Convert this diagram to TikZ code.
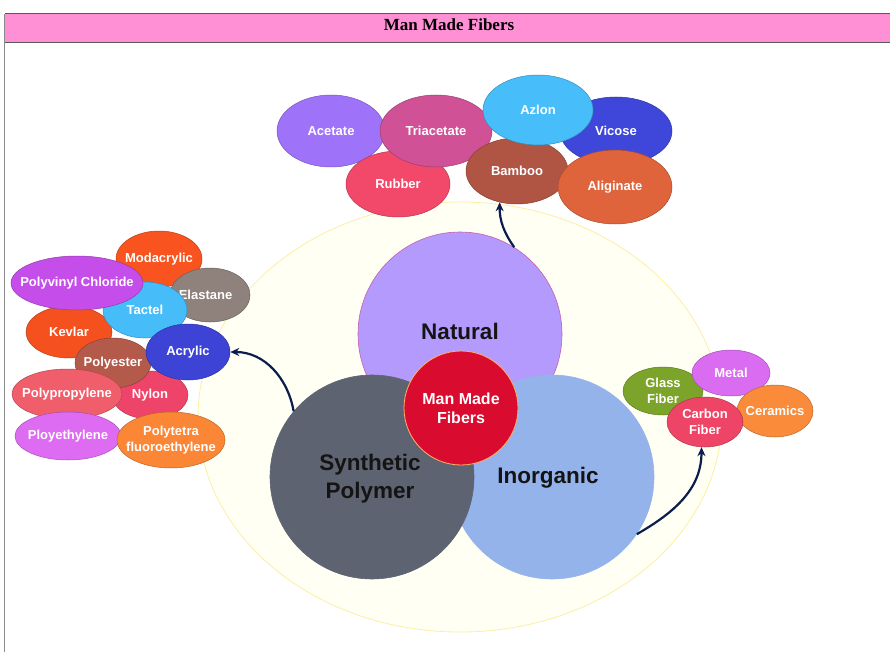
\documentclass[tikz,border=0pt]{standalone}
\usepackage{fontspec}
\setmainfont{Liberation Sans}
\newfontfamily\titlefont{Liberation Serif}
\usetikzlibrary{shapes.geometric,arrows.meta}

% palette
\definecolor{barpink}{HTML}{FF90D5}
\definecolor{arrowblue}{HTML}{0B1D4E}
\definecolor{haloFill}{HTML}{FFFFF4}
\definecolor{haloLine}{HTML}{FBEFA6}
\definecolor{cNatural}{HTML}{B49AFD}
\definecolor{cSynthetic}{HTML}{5D6370}
\definecolor{cInorganic}{HTML}{94B3EB}
\definecolor{cCore}{HTML}{D90B2F}
\definecolor{cAcetate}{HTML}{9F72FA}
\definecolor{cTriacetate}{HTML}{D05196}
\definecolor{cRubber}{HTML}{F2496A}
\definecolor{cAzlon}{HTML}{47BEFA}
\definecolor{cVicose}{HTML}{3F47DB}
\definecolor{cBamboo}{HTML}{B05544}
\definecolor{cAliginate}{HTML}{DF643C}
\definecolor{cModacrylic}{HTML}{F9541F}
\definecolor{cPVC}{HTML}{C54EEA}
\definecolor{cElastane}{HTML}{8F817B}
\definecolor{cTactel}{HTML}{46BDF8}
\definecolor{cKevlar}{HTML}{F4511E}
\definecolor{cPolyester}{HTML}{B35A4B}
\definecolor{cAcrylic}{HTML}{3D43D5}
\definecolor{cNylon}{HTML}{EF4469}
\definecolor{cPolypropylene}{HTML}{F05D6B}
\definecolor{cPloyethylene}{HTML}{DE6CF2}
\definecolor{cPolytetra}{HTML}{FA8636}
\definecolor{cGlass}{HTML}{7DA42A}
\definecolor{cMetal}{HTML}{D96CF1}
\definecolor{cCeramics}{HTML}{FA8B3A}
\definecolor{cCarbon}{HTML}{EE4566}

\begin{document}
\begin{tikzpicture}[x=1pt,y=-1pt,
  % negative inner sep lets the minimum sizes alone fix each oval
  oval/.style n args={3}{ellipse, fill=#1, draw=#1!75!black, line width=0.5pt,
    minimum width=#2, minimum height=#3, inner xsep=-80pt, inner ysep=-30pt,
    text=white, align=center, font=\bfseries\fontsize{13}{16}\selectfont},
  group/.style n args={2}{circle, fill=#1, draw=#2, line width=0.6pt,
    minimum size=204pt, inner sep=0pt},
  grouplabel/.style={text=black!92, align=center,
    font=\bfseries\fontsize{22.5}{28}\selectfont},
  link/.style={draw=arrowblue, line width=2.2pt, -{Stealth[length=9pt,width=8pt]}}]

\useasboundingbox (0,0) rectangle (890,652);
\fill[white] (0,0) rectangle (890,652);

% page frame and title bar
\fill[barpink] (5,14) rectangle (892,43);
\draw[black!65, line width=1pt] (5,14) -- (892,14) (5,43) -- (892,43);
\draw[black!45, line width=1.5pt] (4.5,14) -- (4.5,652);
\node[font=\titlefont\bfseries\fontsize{17}{20}\selectfont] (title) at (449,25) {Man Made Fibers};

% background halo
\node[ellipse, fill=haloFill, draw=haloLine, line width=0.8pt,
      minimum width=524pt, minimum height=430pt, inner sep=0pt] (halo) at (460,417) {};

% the three families and the core
\node[group={cNatural}{cCore!40!cNatural}] (natural) at (460,334) {};
\node[group={cInorganic}{cInorganic}] (inorganic) at (552,477) {};
\node[group={cSynthetic}{cSynthetic}] (synthetic) at (372,477) {};
\node[grouplabel] (natlabel) at (460,331) {Natural};
\node[grouplabel] (synlabel) at (370,479) {Synthetic\\Polymer};
\node[grouplabel] (inolabel) at (548,478) {Inorganic};
\node[circle, fill=cCore, draw=orange!60, line width=0.8pt, minimum size=114pt,
      inner sep=-20pt, text=white, align=center,
      font=\bfseries\fontsize{16}{19}\selectfont] (core) at (461,408) {Man Made\\Fibers};

% natural fibres
\node[oval={cAcetate}{108}{72}] (acetate) at (331,131) {Acetate};
\node[oval={cRubber}{104}{66}] (rubber) at (398,184) {Rubber};
\node[oval={cTriacetate}{112}{72}] (triacetate) at (436,131) {Triacetate};
\node[oval={cBamboo}{102}{66}] (bamboo) at (517,171) {Bamboo};
\node[oval={cVicose}{112}{68}] (vicose) at (616,131) {Vicose};
\node[oval={cAliginate}{114}{74}] (aliginate) at (615,187) {Aliginate};
\node[oval={cAzlon}{110}{70}] (azlon) at (538,110) {Azlon};

% synthetic polymer fibres
\node[oval={cModacrylic}{86}{56}] (modacrylic) at (159,259) {Modacrylic};
\node[oval={cElastane}{80}{54}] (elastane) at (210,295) {\hspace*{-9pt}Elastane};
\node[oval={cKevlar}{86}{52}] (kevlar) at (69,332) {Kevlar};
\node[oval={cTactel}{84}{56}] (tactel) at (145,310) {Tactel};
\node[oval={cPVC}{132}{54}] (pvc) at (77,283) {Polyvinyl Chloride};
\node[oval={cNylon}{76}{48}] (nylon) at (150,395) {Nylon};
\node[oval={cPolyester}{76}{50}] (polyester) at (113,363) {Polyester};
\node[oval={cAcrylic}{84}{56}] (acrylic) at (188,352) {Acrylic};
\node[oval={cPolypropylene}{110}{50}] (polypropylene) at (67,394) {Polypropylene};
\node[oval={cPloyethylene}{106}{48}] (ployethylene) at (68,436) {Ployethylene};
\node[oval={cPolytetra}{108}{56}] (polytetra) at (171,440) {Polytetra\\fluoroethylene};

% inorganic fibres
\node[oval={cGlass}{80}{48}] (glass) at (663,391) {Glass\\Fiber};
\node[oval={cMetal}{78}{46}] (metal) at (731,373) {Metal};
\node[oval={cCeramics}{76}{52}] (ceramics) at (775,411) {Ceramics};
\node[oval={cCarbon}{76}{50}] (carbon) at (705,422) {Carbon\\Fiber};

% connectors from each family to its members
\draw[link] (natural.58) to[out=125,in=-90] (bamboo.241);
\draw[link] (synthetic.140) to[out=100,in=0] (acrylic.east);
\draw[link] (inorganic.-34) to[out=30,in=-90] (carbon.262);
\end{tikzpicture}
\end{document}
